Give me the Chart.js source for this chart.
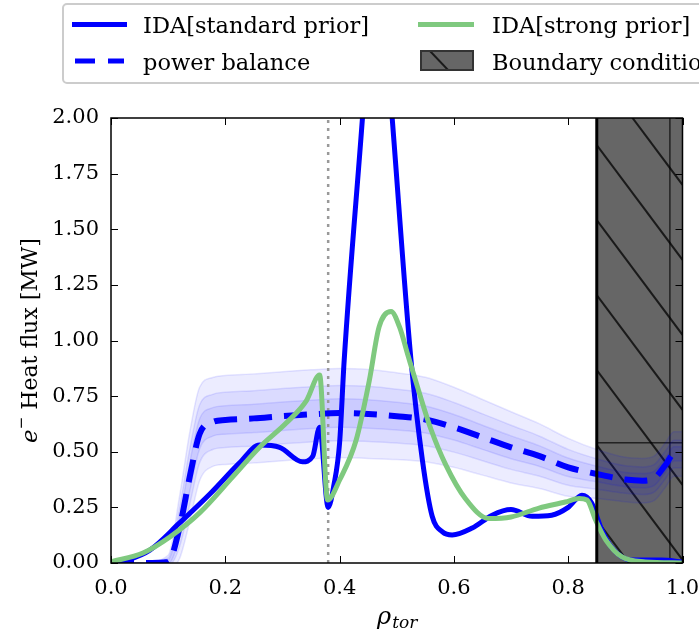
<!DOCTYPE html>
<html>
<head>
<meta charset="utf-8">
<script src="https://cdn.jsdelivr.net/npm/chart.js@4/dist/chart.umd.min.js"></script>
<style>
    html, body { margin: 0; padding: 0; background: #ffffff; }
    #wrap { width: 699px; height: 637px; position: relative; }
</style>
</head>
<body>
<div id="wrap"><canvas id="heat-flux-chart"></canvas></div>
<script>
// IDA with standard prior (solid blue)
const standardX = [0, 0.03, 0.068, 0.12, 0.173, 0.225, 0.26, 0.295, 0.335, 0.353, 0.365, 0.38, 0.39, 0.40, 0.408, 0.44, 0.465, 0.492, 0.525, 0.545, 0.562, 0.58, 0.597, 0.632, 0.667, 0.70, 0.737, 0.771, 0.80, 0.824, 0.841, 0.857, 0.876, 0.911, 0.963, 1.0];
const standardY = [0, 0.015, 0.058, 0.18, 0.31, 0.45, 0.53, 0.52, 0.455, 0.48, 0.61, 0.25, 0.35, 0.54, 0.91, 2.0, 2.88, 2.0, 0.91, 0.46, 0.21, 0.14, 0.126, 0.157, 0.215, 0.24, 0.21, 0.215, 0.25, 0.305, 0.27, 0.16, 0.07, 0.013, 0.013, 0.005];

// IDA with strong prior (green)
const strongX = [0, 0.056, 0.103, 0.155, 0.213, 0.26, 0.307, 0.342, 0.365, 0.379, 0.40, 0.429, 0.452, 0.469, 0.49, 0.505, 0.52, 0.54, 0.56, 0.586, 0.62, 0.661, 0.70, 0.749, 0.795, 0.819, 0.833, 0.848, 0.866, 0.894, 0.935, 1.0];
const strongY = [0.005, 0.045, 0.117, 0.225, 0.387, 0.52, 0.63, 0.73, 0.845, 0.283, 0.373, 0.553, 0.82, 1.06, 1.13, 1.06, 0.93, 0.76, 0.6, 0.44, 0.29, 0.2, 0.207, 0.247, 0.274, 0.29, 0.283, 0.193, 0.103, 0.027, 0.005, 0];

// power balance (dashed) and its uncertainty spread
const balanceX = [0, 0.05, 0.1, 0.12, 0.138, 0.155, 0.178, 0.2, 0.25, 0.3, 0.35, 0.4, 0.45, 0.5, 0.55, 0.6, 0.65, 0.7, 0.75, 0.8, 0.85, 0.9, 0.93, 0.95, 0.97, 0.985, 1.0];
const balanceY = [0, 0, 0.005, 0.16, 0.39, 0.58, 0.634, 0.643, 0.65, 0.66, 0.668, 0.674, 0.67, 0.66, 0.645, 0.61, 0.565, 0.52, 0.48, 0.43, 0.40, 0.375, 0.37, 0.38, 0.44, 0.49, 0.49];
const balanceSpread = [0, 0, 0.03, 0.14, 0.2, 0.21, 0.2, 0.2, 0.2, 0.2, 0.2, 0.2, 0.2, 0.195, 0.19, 0.18, 0.17, 0.16, 0.145, 0.13, 0.11, 0.1, 0.1, 0.1, 0.1, 0.1, 0.1];
const bandLevels = [1.0, 0.62, 0.32];

const separatrixX = 0.38;
const boundaryStart = 0.85;
const xTickValues = [0, 0.2, 0.4, 0.6, 0.8, 1.0];
const yTickValues = [0, 0.25, 0.5, 0.75, 1.0, 1.25, 1.5, 1.75, 2.0];

const BLUE = '#0000ff';
const GREEN = '#7fc97f';
const SERIF = '"DejaVu Serif", "Liberation Serif", serif';

const toPoints = (xs, ys) => xs.map((x, i) => ({ x: x, y: ys[i] }));

function buildBands() {
    const sets = [];
    bandLevels.forEach((lvl, k) => {
        const upper = balanceX.map((x, i) => ({ x: x, y: balanceY[i] + balanceSpread[i] * lvl }));
        const lower = balanceX.map((x, i) => ({ x: x, y: balanceY[i] - balanceSpread[i] * lvl }));
        sets.push({
            data: upper, borderColor: 'rgba(0,0,255,0.1)', borderWidth: 1.5,
            pointRadius: 0, fill: false, order: 10 + k, cubicInterpolationMode: 'monotone'
        });
        sets.push({
            data: lower, borderColor: 'rgba(0,0,255,0.1)', borderWidth: 1.5,
            backgroundColor: 'rgba(0,0,255,0.075)',
            pointRadius: 0, fill: '-1', order: 10 + k, cubicInterpolationMode: 'monotone'
        });
    });
    return sets;
}

// boundary region, hatch and thin marker lines under the data
const boundaryPlugin = {
    id: 'boundaryRegion',
    beforeDatasetsDraw(chart) {
        const { ctx, chartArea: a, scales: { x, y } } = chart;
        const x0 = x.getPixelForValue(boundaryStart);
        ctx.save();
        ctx.fillStyle = '#666666';
        ctx.fillRect(x0, a.top, a.right - x0, a.bottom - a.top);
        ctx.beginPath();
        ctx.rect(x0, a.top, a.right - x0, a.bottom - a.top);
        ctx.clip();
        ctx.strokeStyle = '#1a1a1a';
        ctx.lineWidth = 2;
        const slope = 1.34;
        for (let yy = a.top - 300 + 27; yy < a.bottom + 10; yy += 75) {
            ctx.beginPath();
            ctx.moveTo(x0, yy);
            ctx.lineTo(a.right, yy + (a.right - x0) * slope);
            ctx.stroke();
        }
        ctx.strokeStyle = '#000000';
        ctx.lineWidth = 1;
        const hy = y.getPixelForValue(0.54);
        ctx.beginPath();
        ctx.moveTo(x0, hy); ctx.lineTo(a.right, hy);
        const vx = x.getPixelForValue(0.978);
        ctx.moveTo(vx, a.top); ctx.lineTo(vx, a.bottom);
        ctx.stroke();
        ctx.restore();
    },
    afterDatasetsDraw(chart) {
        const { ctx, chartArea: a, scales: { x } } = chart;
        const x0 = x.getPixelForValue(boundaryStart);
        ctx.save();
        ctx.strokeStyle = '#000000';
        ctx.lineWidth = 3;
        ctx.beginPath();
        ctx.moveTo(x0, a.top); ctx.lineTo(x0, a.bottom);
        ctx.stroke();
        ctx.restore();
    }
};

// frame, inward ticks, axis titles and legend
const decorPlugin = {
    id: 'decor',
    afterDraw(chart) {
        const { ctx, chartArea: a, scales: { x, y } } = chart;
        ctx.save();
        ctx.strokeStyle = '#000000';
        ctx.lineWidth = 1.5;
        ctx.strokeRect(a.left, a.top, a.right - a.left, a.bottom - a.top);
        ctx.lineWidth = 1;
        ctx.beginPath();
        xTickValues.forEach(v => {
            const px = Math.round(x.getPixelForValue(v)) + 0.5;
            ctx.moveTo(px, a.bottom); ctx.lineTo(px, a.bottom - 7);
            ctx.moveTo(px, a.top); ctx.lineTo(px, a.top + 7);
        });
        yTickValues.forEach(v => {
            const py = Math.round(y.getPixelForValue(v)) + 0.5;
            ctx.moveTo(a.left, py); ctx.lineTo(a.left + 7, py);
            ctx.moveTo(a.right, py); ctx.lineTo(a.right - 7, py);
        });
        ctx.stroke();

        // x title: rho_tor
        ctx.fillStyle = '#000000';
        ctx.textBaseline = 'alphabetic';
        ctx.textAlign = 'left';
        const cx = (a.left + a.right) / 2;
        ctx.font = 'italic 24px ' + SERIF;
        const wRho = ctx.measureText('ρ').width;
        ctx.font = 'italic 17px ' + SERIF;
        const wSub = ctx.measureText('tor').width;
        const startX = cx - (wRho + wSub) / 2;
        ctx.font = 'italic 24px ' + SERIF;
        ctx.fillText('ρ', startX, 624);
        ctx.font = 'italic 17px ' + SERIF;
        ctx.fillText('tor', startX + wRho + 1, 628);

        // y title: e^- Heat flux [MW]
        ctx.save();
        ctx.translate(37, (a.top + a.bottom) / 2);
        ctx.rotate(-Math.PI / 2);
        ctx.font = 'italic 23px ' + SERIF;
        const wE = ctx.measureText('e').width;
        ctx.font = '15px ' + SERIF;
        const wM = ctx.measureText('−').width;
        ctx.font = '22px ' + SERIF;
        const rest = ' Heat flux [MW]';
        const wR = ctx.measureText(rest).width;
        const sx = -(wE + wM + wR) / 2;
        ctx.font = 'italic 23px ' + SERIF;
        ctx.fillText('e', sx, 0);
        ctx.font = '15px ' + SERIF;
        ctx.fillText('−', sx + wE, -11);
        ctx.font = '22px ' + SERIF;
        ctx.fillText(rest, sx + wE + wM, 0);
        ctx.restore();

        // legend
        ctx.beginPath();
        ctx.roundRect(63, 4, 700, 79, 4);
        ctx.fillStyle = 'rgba(255,255,255,0.85)';
        ctx.fill();
        ctx.strokeStyle = '#cccccc';
        ctx.lineWidth = 2;
        ctx.stroke();

        ctx.lineWidth = 5;
        ctx.strokeStyle = BLUE;
        ctx.beginPath(); ctx.moveTo(72, 24.5); ctx.lineTo(127, 24.5); ctx.stroke();
        ctx.beginPath(); ctx.moveTo(75, 61); ctx.lineTo(95, 61); ctx.moveTo(108, 61); ctx.lineTo(124, 61); ctx.stroke();
        ctx.strokeStyle = GREEN;
        ctx.beginPath(); ctx.moveTo(418, 24.5); ctx.lineTo(474, 24.5); ctx.stroke();

        ctx.fillStyle = '#666666';
        ctx.fillRect(421, 51, 52, 19);
        ctx.save();
        ctx.beginPath(); ctx.rect(421, 51, 52, 19); ctx.clip();
        ctx.strokeStyle = '#1a1a1a';
        ctx.lineWidth = 2;
        ctx.beginPath(); ctx.moveTo(430, 51); ctx.lineTo(449, 71); ctx.stroke();
        ctx.restore();
        ctx.strokeStyle = '#333333';
        ctx.lineWidth = 2;
        ctx.strokeRect(421, 51, 52, 19);

        ctx.fillStyle = '#000000';
        ctx.font = '22.5px ' + SERIF;
        ctx.fillText('IDA[standard prior]', 143, 33);
        ctx.fillText('power balance', 143, 70);
        ctx.fillText('IDA[strong prior]', 492, 33);
        ctx.fillText('Boundary conditions', 492, 70);
        ctx.restore();
    }
};

function renderHeatFluxChart() {
    const canvas = document.getElementById('heat-flux-chart');
    const datasets = buildBands();

    datasets.push({
        data: [{ x: separatrixX, y: 0 }, { x: separatrixX, y: 2 }],
        borderColor: '#999999', borderWidth: 2.5, borderDash: [3, 5],
        pointRadius: 0, fill: false, order: 5
    });
    datasets.push({
        label: 'power balance',
        data: toPoints(balanceX, balanceY),
        borderColor: BLUE, borderWidth: 6, borderDash: [23, 12],
        pointRadius: 0, fill: false, order: 3, cubicInterpolationMode: 'monotone'
    });
    datasets.push({
        label: 'IDA[standard prior]',
        data: toPoints(standardX, standardY),
        borderColor: BLUE, borderWidth: 5,
        pointRadius: 0, fill: false, order: 2, cubicInterpolationMode: 'monotone'
    });
    datasets.push({
        label: 'IDA[strong prior]',
        data: toPoints(strongX, strongY),
        borderColor: GREEN, borderWidth: 5,
        pointRadius: 0, fill: false, order: 1, cubicInterpolationMode: 'monotone'
    });

    new Chart(canvas, {
        type: 'line',
        data: { datasets: datasets },
        options: {
            responsive: false,
            animation: false,
            layout: { padding: { top: 118, right: 16.5, left: 0, bottom: 0 } },
            plugins: {
                legend: { display: false },
                tooltip: { enabled: false }
            },
            scales: {
                x: {
                    type: 'linear', min: 0, max: 1,
                    grid: { display: false },
                    border: { display: false },
                    afterFit: (s) => { s.height = 74; s.paddingLeft = 0; s.paddingRight = 0; },
                    afterBuildTicks: (s) => { s.ticks = xTickValues.map(v => ({ value: v })); },
                    ticks: {
                        padding: 5, color: '#000000', maxRotation: 0,
                        font: { family: SERIF, size: 21 },
                        callback: (v) => v.toFixed(1)
                    }
                },
                y: {
                    min: 0, max: 2,
                    grid: { display: false },
                    border: { display: false },
                    afterFit: (s) => { s.width = 111; s.paddingTop = 0; s.paddingBottom = 0; },
                    afterBuildTicks: (s) => { s.ticks = yTickValues.map(v => ({ value: v })); },
                    ticks: {
                        padding: 4, color: '#000000',
                        font: { family: SERIF, size: 21 },
                        callback: (v) => v.toFixed(2)
                    }
                }
            }
        },
        plugins: [boundaryPlugin, decorPlugin]
    });
}

const cv = document.getElementById('heat-flux-chart');
cv.width = 699;
cv.height = 637;
renderHeatFluxChart();
</script>
</body>
</html>
